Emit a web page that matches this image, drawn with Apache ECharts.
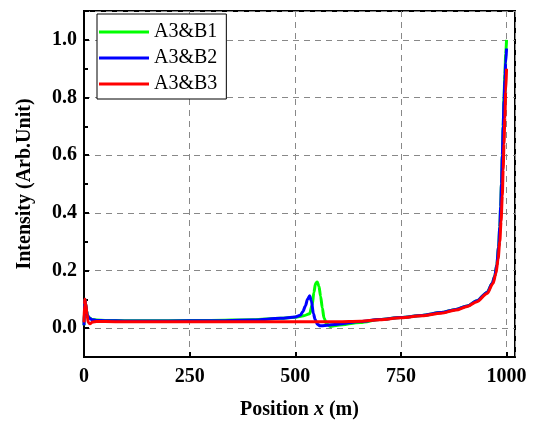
<!DOCTYPE html>
<html>
<head>
<meta charset="utf-8">
<script src="https://cdn.jsdelivr.net/npm/echarts@6/dist/echarts.min.js"></script>
<style>
  html, body { margin: 0; padding: 0; background: #fff; }
  #main { width: 536px; height: 423px; }
</style>
</head>
<body>
<div id="main"></div>
<script>
// series names
var names = ['A3&B1', 'A3&B2', 'A3&B3']
var colors = ['#00ff00', '#0000ff', '#ff0000']

// A3&B1 (green)
var b1X = [0, 1, 2, 4, 6, 8, 12, 20, 30, 50, 100, 200, 300, 400, 465, 500, 520, 534, 540, 544, 548, 552, 556, 560, 564, 568, 574, 583, 600, 654, 700, 750, 800, 845, 880, 907, 930, 954, 966, 972, 977, 981, 984, 986, 988, 990, 992, 994, 996, 998, 1000]
var b1Y = [0.01, 0.06, 0.1, 0.085, 0.06, 0.045, 0.036, 0.03, 0.028, 0.027, 0.026, 0.026, 0.027, 0.029, 0.034, 0.038, 0.043, 0.05, 0.08, 0.124, 0.155, 0.16, 0.145, 0.11, 0.07, 0.035, 0.015, 0.006, 0.01, 0.02, 0.03, 0.037, 0.044, 0.054, 0.065, 0.077, 0.095, 0.124, 0.155, 0.18, 0.22, 0.28, 0.35, 0.42, 0.5, 0.6, 0.7, 0.8, 0.88, 0.95, 1.0]

// A3&B2 (blue)
var b2X = [0, 1, 2, 4, 6, 8, 12, 20, 30, 50, 100, 200, 300, 400, 465, 500, 512, 518, 524, 529, 534, 538, 543, 547, 552, 559, 570, 600, 654, 700, 750, 800, 845, 880, 907, 930, 954, 966, 972, 977, 981, 984, 986, 988, 990, 992, 994, 996, 998, 1000]
var b2Y = [0.01, 0.06, 0.1, 0.085, 0.06, 0.045, 0.035, 0.029, 0.027, 0.026, 0.025, 0.025, 0.026, 0.028, 0.034, 0.039, 0.045, 0.058, 0.077, 0.1, 0.112, 0.095, 0.05, 0.03, 0.014, 0.008, 0.009, 0.014, 0.023, 0.03, 0.037, 0.044, 0.054, 0.065, 0.077, 0.095, 0.124, 0.155, 0.18, 0.22, 0.28, 0.35, 0.42, 0.5, 0.6, 0.7, 0.79, 0.86, 0.92, 0.97]

// A3&B3 (red)
var b3X = [0, 1, 2, 4, 7, 10, 14, 20, 30, 50, 100, 200, 300, 400, 500, 600, 654, 700, 750, 800, 845, 880, 907, 930, 954, 968, 975, 980, 984, 987, 990, 992, 994, 996, 998, 1000]
var b3Y = [0.02, 0.08, 0.1, 0.085, 0.05, 0.02, 0.015, 0.021, 0.023, 0.023, 0.022, 0.022, 0.022, 0.022, 0.022, 0.022, 0.024, 0.029, 0.036, 0.043, 0.052, 0.063, 0.075, 0.092, 0.12, 0.155, 0.19, 0.24, 0.3, 0.37, 0.46, 0.55, 0.64, 0.73, 0.82, 0.9]

var font = 'Liberation Serif'

function pairs(xs, ys) {
  return xs.map(function (x, i) { return [x, ys[i]] })
}

var seriesData = [pairs(b1X, b1Y), pairs(b2X, b2Y), pairs(b3X, b3Y)]

var chartDom = document.getElementById('main')
var myChart = echarts.init(chartDom, null, { renderer: 'canvas' })

var option = {
  animation: false,
  backgroundColor: '#fff',
  grid: {
    left: 84,
    right: 21,
    top: 11,
    bottom: 66,
    containLabel: false,
    outerBoundsMode: 'none',
    show: true,
    borderColor: '#000',
    borderWidth: 2,
  },
  legend: {
    orient: 'vertical',
    left: 97,
    top: 14,
    icon: 'rect',
    itemWidth: 50,
    itemHeight: 3,
    itemGap: 6,
    padding: [8, 9, 5, 2],
    backgroundColor: '#fff',
    borderColor: '#000',
    borderWidth: 1,
    borderRadius: 0,
    textStyle: { fontFamily: font, fontSize: 20, color: '#000', lineHeight: 20 },
    data: names,
  },
  xAxis: {
    type: 'value',
    min: 0,
    max: 1020,
    interval: 250,
    name: '{a|Position }{b|x}{a| (m)}',
    nameLocation: 'middle',
    nameGap: 43,
    nameTextStyle: {
      rich: {
        a: { fontFamily: font, fontSize: 20, fontWeight: 'bold', color: '#000' },
        b: { fontFamily: font, fontSize: 20, fontWeight: 'bold', fontStyle: 'italic', color: '#000' },
      },
    },
    axisLine: { show: true, onZero: false, lineStyle: { color: '#000', width: 2 } },
    axisTick: { show: true, inside: true, length: 5, lineStyle: { color: '#000', width: 2 } },
    axisLabel: {
      margin: 10,
      showMaxLabel: false,
      fontFamily: font,
      fontSize: 20,
      fontWeight: 'bold',
      color: '#000',
      formatter: function (v) { return String(v) },
    },
    splitLine: { show: true, lineStyle: { color: '#888', width: 1, type: [6, 5] } },
  },
  yAxis: {
    type: 'value',
    min: -0.1,
    max: 1.1,
    splitNumber: 6,
    name: 'Intensity (Arb.Unit)',
    nameLocation: 'middle',
    nameGap: 49,
    nameTextStyle: { fontFamily: font, fontSize: 20, fontWeight: 'bold', color: '#000' },
    axisLine: { show: true, onZero: false, lineStyle: { color: '#000', width: 2 } },
    axisTick: { show: true, inside: true, length: 5, lineStyle: { color: '#000', width: 2 } },
    minorTick: { show: true, splitNumber: 2, length: 4, lineStyle: { color: '#000', width: 2 } },
    axisLabel: {
      margin: 7,
      showMinLabel: false,
      showMaxLabel: false,
      fontFamily: font,
      fontSize: 20,
      fontWeight: 'bold',
      color: '#000',
      formatter: function (v) { return v.toFixed(1) },
    },
    splitLine: { show: true, lineStyle: { color: '#888', width: 1, type: [6, 5] } },
  },
  series: names.map(function (n, i) {
    return {
      name: n,
      type: 'line',
      data: seriesData[i],
      symbol: 'none',
      smooth: 0.3,
      smoothMonotone: 'x',
      color: colors[i],
      lineStyle: { color: colors[i], width: 3 },
      z: 2 + i,
    }
  }),
}

option && myChart.setOption(option)
</script>
</body>
</html>
